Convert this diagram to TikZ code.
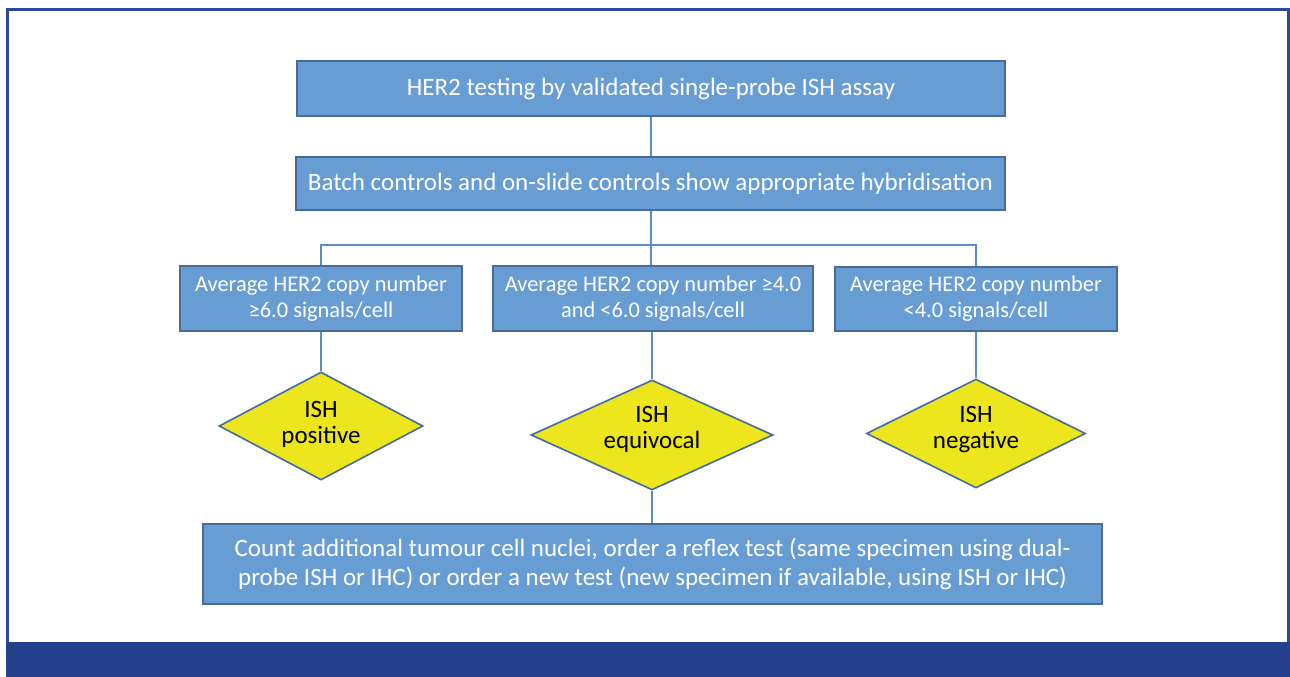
\documentclass[tikz,border=0pt]{standalone}
\usepackage{fontspec}
\setmainfont{Carlito}
\usetikzlibrary{shapes.geometric}
\definecolor{boxfill}{RGB}{104,157,211}
\definecolor{boxedge}{RGB}{72,108,150}
\definecolor{dfill}{RGB}{238,230,28}
\definecolor{dedge}{RGB}{66,108,160}
\definecolor{lineblue}{RGB}{92,142,198}
\definecolor{frameblue}{RGB}{44,74,156}
\definecolor{band}{RGB}{37,64,141}
\tikzset{
  bx/.style={draw=boxedge, line width=2pt, fill=boxfill, text=white, align=center, inner sep=0pt,
    font=\fontsize{25}{26}\selectfont},
  mid/.style={bx, font=\fontsize{22.4}{26}\selectfont},
  dia/.style={diamond, draw=dedge, line width=1.6pt, fill=dfill, inner sep=0pt},
  dtext/.style={text=black, align=center, inner sep=0pt, font=\fontsize{25}{26}\selectfont},
  conn/.style={draw=lineblue, line width=2pt}
}
\begin{document}
\begin{tikzpicture}[x=1pt,y=-1pt]
\useasboundingbox (0,0) rectangle (1290,677);
\fill[white] (0,0) rectangle (1290,677);
\fill[band] (6,642) rectangle (1290,677);
\draw[frameblue, line width=2.6pt] (7.3,642) -- (7.3,9.3) -- (1288.7,9.3) -- (1288.7,642);

\node[bx, minimum width=708pt, minimum height=55pt] (top) at (651,88.5) {HER2 testing by validated single-probe ISH assay};
\node[bx, minimum width=709pt, minimum height=53pt] (batch) at (650.5,183.5) {Batch controls and on-slide controls show appropriate hybridisation};

\node[mid, minimum width=282pt, minimum height=65pt] (b1) at (321,298.5) {Average HER2 copy number\\≥6.0 signals/cell};
\node[mid, minimum width=320pt, minimum height=65pt] (b2) at (653,298.5) {Average HER2 copy number ≥4.0\\and <6.0 signals/cell};
\node[mid, minimum width=282pt, minimum height=64pt] (b3) at (976,299) {Average HER2 copy number\\<4.0 signals/cell};

\node[dia, minimum width=204pt, minimum height=108pt] (d1) at (321,426) {};
\node[dia, minimum width=242pt, minimum height=110pt] (d2) at (652,435) {};
\node[dia, minimum width=219pt, minimum height=109pt] (d3) at (976,433.5) {};
\node[dtext] (t1) at (321,424.5) {ISH\\positive};
\node[dtext] (t2) at (652,429.5) {ISH\\equivocal};
\node[dtext] (t3) at (976,429.5) {ISH\\negative};

\node[bx, minimum width=899pt, minimum height=80pt, font=\fontsize{25}{29}\selectfont] (bot) at (652.5,564) {Count additional tumour cell nuclei, order a reflex test (same specimen using dual-\\probe ISH or IHC) or order a new test (new specimen if available, using ISH or IHC)};

\coordinate (split) at (651,245);
\draw[conn] (top.south) -- (top.south |- batch.north);
\draw[conn] (batch.south -| split) -- (split);
\draw[conn] (b1.north) |- (split) -| (b3.north);
\draw[conn] (split) -- (split |- b2.north);
\draw[conn] (b1.south) -- (d1.north);
\draw[conn] (b2.south -| d2.north) -- (d2.north);
\draw[conn] (b3.south) -- (d3.north);
\draw[conn] (d2.south) -- (d2.south |- bot.north);
\end{tikzpicture}
\end{document}
